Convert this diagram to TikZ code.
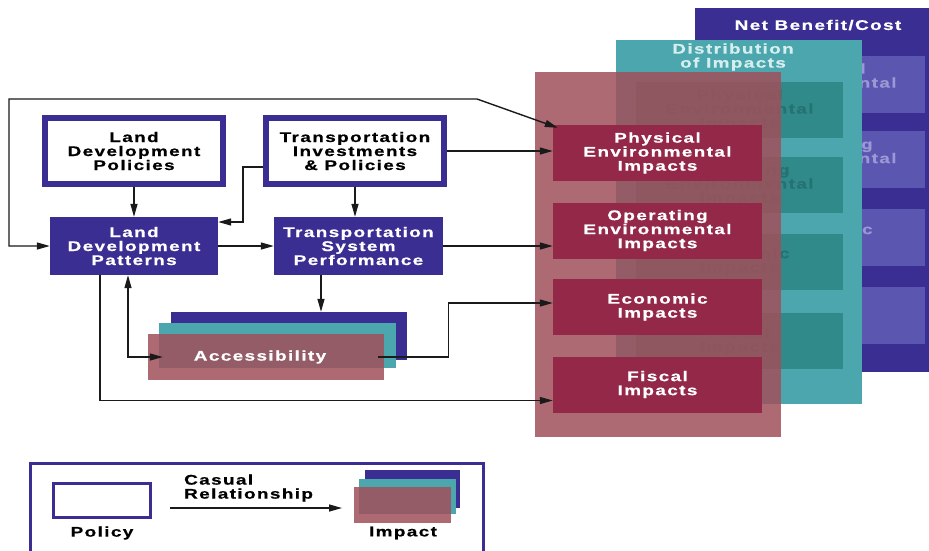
\documentclass[tikz,border=0pt]{standalone}
\usepackage{fontspec}
\setmainfont{Liberation Sans}
\newfontfamily\bx[FakeStretch=1.35,LetterSpace=10,FakeBold=0.6]{Liberation Sans Bold}
\usetikzlibrary{arrows.meta,calc}
\definecolor{dblue}{HTML}{3A2E92}
\definecolor{lblue}{HTML}{5B56B0}
\definecolor{ghostb}{HTML}{9C98D6}
\definecolor{teal1}{HTML}{4BA6AD}
\definecolor{teal2}{HTML}{2F8A89}
\definecolor{ghostt}{HTML}{267272}
\definecolor{redL}{HTML}{A0505A}
\definecolor{crim}{HTML}{932848}
\definecolor{ln}{HTML}{1A1A1A}
\definecolor{paleT}{HTML}{D6EEEE}
\begin{document}
\begin{tikzpicture}[x=1pt,y=-1pt,
  every node/.style={font=\bx\fontsize{14}{14}\selectfont, align=center, inner sep=0pt},
  policy/.style={draw=dblue, line width=6pt, fill=white, text=black, minimum width=178pt, minimum height=66pt},
  pattern/.style={fill=dblue, text=white, minimum width=169pt, minimum height=58pt},
  imp/.style={fill=crim, text=white, minimum width=209pt, minimum height=56pt},
  timp/.style={fill=teal2, text=ghostt, minimum width=207pt, minimum height=56pt},
  bimp/.style={fill=lblue, text=ghostb, minimum width=205pt, minimum height=57pt},
  redlayer/.style={fill=redL, fill opacity=0.85, text opacity=1},
  conn/.style={draw=ln, line width=1.4pt, -{Triangle[length=13pt,width=7pt]}},
  conn2/.style={draw=ln, line width=1.4pt, {Triangle[length=13pt,width=7pt]}-{Triangle[length=13pt,width=7pt]}}
]
\useasboundingbox (0,0) rectangle (929,550);
\fill[white] (0,0) rectangle (929,550);

% ---- back layer: Net Benefit/Cost
\node[fill=dblue, minimum width=234pt, minimum height=364pt] (netl) at (812,190) {};
\node[text=white] (nett) at (818,25) {Net Benefit/Cost};
\node[bimp] (b1) at (822.5,84) {Physical\\Environmental\\Impacts};
\node[bimp] (b2) at (822.5,159.5) {Operating\\Environmental\\Impacts};
\node[bimp] (b3) at (822.5,237.5) {Economic\\Impacts};
\node[bimp] (b4) at (822.5,315) {Fiscal\\Impacts};

% ---- middle layer: Distribution of Impacts
\node[fill=teal1, minimum width=246pt, minimum height=364pt] (distl) at (739,222) {};
\node[text=paleT] (distt) at (733,57) {Distribution\\of Impacts};
\node[timp] (t1) at (739.5,110) {Physical\\Environmental\\Impacts};
\node[timp] (t2) at (739.5,185) {Operating\\Environmental\\Impacts};
\node[timp] (t3) at (739.5,261.5) {Economic\\Impacts};
\node[timp] (t4) at (739.5,341) {Fiscal\\Impacts};

% ---- front layer: impacts
\node[redlayer, minimum width=246pt, minimum height=365pt] (impl) at (658,254.5) {};
\node[imp] (phys) at (657.5,153) {Physical\\Environmental\\Impacts};
\node[imp] (oper) at (657.5,230.5) {Operating\\Environmental\\Impacts};
\node[imp] (econ) at (657.5,307) {Economic\\Impacts};
\node[imp] (fisc) at (657.5,384.5) {Fiscal\\Impacts};

% ---- policies and patterns
\node[policy] (ldpol) at (134,151) {Land\\Development\\Policies};
\node[policy] (tip) at (355,151) {Transportation\\Investments\\\& Policies};
\node[pattern, minimum width=168pt] (ldpat) at (134,246) {Land\\Development\\Patterns};
\node[pattern] (tsp) at (358.5,246) {Transportation\\System\\Performance};

% ---- accessibility stack
\node[fill=dblue, minimum width=236pt, minimum height=48pt] (accb) at (289,336) {};
\node[fill=teal1, minimum width=237pt, minimum height=45pt] (acct) at (277.5,345.5) {};
\node[redlayer, text=white, minimum width=236pt, minimum height=46pt] (accr) at (266,357) {\hspace*{-12pt}Accessibility};

% ---- connectors
\draw[conn2] (ldpat.west) -- (9,246) -- (9,99) -- (477,99) -- ($(phys.north west)+(5,3)$);
\draw[conn] (tip.east) -- (tip.east -| phys.west);
\draw[conn] (tsp.east) -- (tsp.east -| oper.west);
\draw[conn] (ldpol.south) -- (ldpat.north);
\draw[conn] (tip.south) -- (tip.south |- tsp.north);
\draw[conn] ([yshift=-16pt]tip.west) -- ++(-20,0) |- ([yshift=24pt]ldpat.east);
\draw[conn] (ldpat.east) -- (tsp.west);
\draw[conn] ([xshift=-37.5pt]tsp.south) -- ([xshift=-37.5pt]tsp.south |- accb.north);
\draw[conn2] ([xshift=-6pt]ldpat.south) |- ([xshift=15pt]accr.west);
\draw[conn] ([xshift=-34pt]ldpat.south) |- ([yshift=-16pt]fisc.west);
\draw[conn] ([xshift=-6pt]accr.east) -- ++(70,0) |- ([yshift=4pt]econ.west);

% ---- legend
\draw[draw=dblue, line width=3pt] (30,463) rectangle (483,565);
\node[draw=dblue, line width=3pt, fill=white, minimum width=97pt, minimum height=34pt] (lpol) at (102,500.5) {};
\node (lpolt) at (102,533) {Policy};
\coordinate (la) at (170,508);
\coordinate (lb) at (342,508);
\draw[conn] (la) -- (lb);
\node[anchor=west, align=left] (lrel) at (184,488) {Casual\\Relationship};
\node[fill=dblue, minimum width=95pt, minimum height=38pt] (limpb) at (412.5,489) {};
\node[fill=teal1, minimum width=97pt, minimum height=35pt] (limpt) at (407.5,496.5) {};
\node[redlayer, minimum width=97pt, minimum height=36pt] (limpr) at (402.5,505) {};
\node (limpt2) at (403,533) {Impact};
\end{tikzpicture}
\end{document}
